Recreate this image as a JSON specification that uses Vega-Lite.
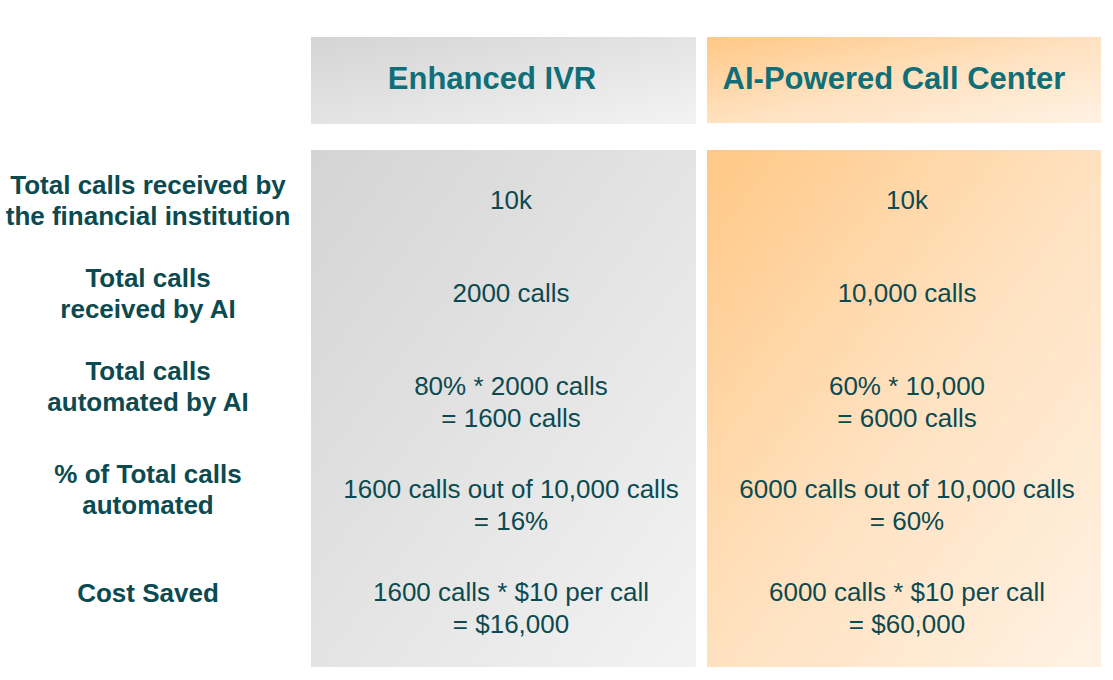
{
  "$schema": "https://vega.github.io/schema/vega-lite/v6.json",
  "width": 1113,
  "height": 680,
  "padding": 0,
  "autosize": {"type": "fit", "contains": "padding"},
  "background": "white",
  "config": {"view": {"stroke": null}},
  "datasets": {
    "boxes": [
      {"grp": "gray", "x": 311, "x2": 696, "y": 37, "y2": 124},
      {"grp": "orange", "x": 707, "x2": 1101, "y": 37, "y2": 123},
      {"grp": "gray", "x": 311, "x2": 696, "y": 150, "y2": 667},
      {"grp": "orange", "x": 707, "x2": 1101, "y": 150, "y2": 667}
    ],
    "texts": [
      {"kind": "head", "x": 492, "y": 80, "t": "Enhanced IVR"},
      {"kind": "head", "x": 894, "y": 80, "t": "AI-Powered Call Center"},
      {"kind": "label", "x": 148, "y": 186, "t": "Total calls received by"},
      {"kind": "label", "x": 148, "y": 217, "t": "the financial institution"},
      {"kind": "label", "x": 148, "y": 279, "t": "Total calls"},
      {"kind": "label", "x": 148, "y": 310, "t": "received by AI"},
      {"kind": "label", "x": 148, "y": 372, "t": "Total calls"},
      {"kind": "label", "x": 148, "y": 403, "t": "automated by AI"},
      {"kind": "label", "x": 148, "y": 475, "t": "% of Total calls"},
      {"kind": "label", "x": 148, "y": 506, "t": "automated"},
      {"kind": "label", "x": 148, "y": 594, "t": "Cost Saved"},
      {"kind": "cell", "x": 511, "y": 201, "t": "10k"},
      {"kind": "cell", "x": 907, "y": 201, "t": "10k"},
      {"kind": "cell", "x": 511, "y": 294, "t": "2000 calls"},
      {"kind": "cell", "x": 907, "y": 294, "t": "10,000 calls"},
      {"kind": "cell", "x": 511, "y": 387, "t": "80% * 2000 calls"},
      {"kind": "cell", "x": 511, "y": 419, "t": "= 1600 calls"},
      {"kind": "cell", "x": 907, "y": 387, "t": "60% * 10,000"},
      {"kind": "cell", "x": 907, "y": 419, "t": "= 6000 calls"},
      {"kind": "cell", "x": 511, "y": 490, "t": "1600 calls out of 10,000 calls"},
      {"kind": "cell", "x": 511, "y": 522, "t": "= 16%"},
      {"kind": "cell", "x": 907, "y": 490, "t": "6000 calls out of 10,000 calls"},
      {"kind": "cell", "x": 907, "y": 522, "t": "= 60%"},
      {"kind": "cell", "x": 511, "y": 593, "t": "1600 calls * $10 per call"},
      {"kind": "cell", "x": 511, "y": 625, "t": "= $16,000"},
      {"kind": "cell", "x": 907, "y": 593, "t": "6000 calls * $10 per call"},
      {"kind": "cell", "x": 907, "y": 625, "t": "= $60,000"}
    ]
  },
  "encoding": {
    "x": {"field": "x", "type": "quantitative", "scale": {"domain": [0, 1113], "nice": false, "zero": false}, "axis": null},
    "y": {"field": "y", "type": "quantitative", "scale": {"domain": [0, 680], "nice": false, "zero": false, "reverse": true}, "axis": null}
  },
  "layer": [
    {
      "data": {"name": "boxes"},
      "transform": [{"filter": "datum.grp == 'gray'"}],
      "mark": {
        "type": "rect",
        "color": {"gradient": "linear", "x1": 0, "y1": 0, "x2": 1, "y2": 1,
          "stops": [{"offset": 0, "color": "#d4d4d4"}, {"offset": 1, "color": "#f3f3f3"}]}
      },
      "encoding": {"x2": {"field": "x2"}, "y2": {"field": "y2"}}
    },
    {
      "data": {"name": "boxes"},
      "transform": [{"filter": "datum.grp == 'orange'"}],
      "mark": {
        "type": "rect",
        "color": {"gradient": "linear", "x1": 0, "y1": 0, "x2": 1, "y2": 1,
          "stops": [{"offset": 0, "color": "#ffc886"}, {"offset": 0.5, "color": "#ffe1bf"}, {"offset": 1, "color": "#fff2e4"}]}
      },
      "encoding": {"x2": {"field": "x2"}, "y2": {"field": "y2"}}
    },
    {
      "data": {"name": "texts"},
      "transform": [{"filter": "datum.kind == 'head'"}],
      "mark": {"type": "text", "font": "Liberation Sans", "fontSize": 31, "fontWeight": "bold", "color": "#0f6f78", "baseline": "middle"},
      "encoding": {"text": {"field": "t"}}
    },
    {
      "data": {"name": "texts"},
      "transform": [{"filter": "datum.kind == 'label'"}],
      "mark": {"type": "text", "font": "Liberation Sans", "fontSize": 26, "fontWeight": "bold", "color": "#0b4a50", "baseline": "middle"},
      "encoding": {"text": {"field": "t"}}
    },
    {
      "data": {"name": "texts"},
      "transform": [{"filter": "datum.kind == 'cell'"}],
      "mark": {"type": "text", "font": "Liberation Sans", "fontSize": 26, "color": "#0b4a50", "baseline": "middle"},
      "encoding": {"text": {"field": "t"}}
    }
  ]
}
